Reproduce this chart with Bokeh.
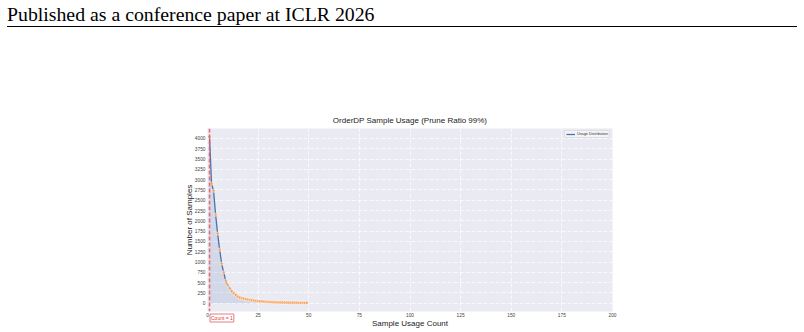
from bokeh.plotting import figure
from bokeh.layouts import column
from bokeh.models import Range1d, SingleIntervalTicker, Label, Span, Legend, LegendItem, Div
from bokeh.core.properties import value
from bokeh.embed import file_html
from bokeh.resources import INLINE

# ---- data ----
usage_count = list(range(1, 50))
num_samples = [4040, 2900, 2730, 2150, 1690, 1300, 962, 750, 540, 440,
               362, 290, 240, 200, 160, 140, 125, 112, 100, 90,
               80, 72, 65, 58, 52, 47, 43, 39, 35, 32,
               29, 27, 25, 23, 21, 20, 18, 17, 16, 15,
               14, 13, 12, 12, 11, 10, 10, 9, 9]
highlight_count = 1
header_text = "Published as a conference paper at ICLR 2026"
title_text = "OrderDP Sample Usage (Prune Ratio 99%)"
x_label = "Sample Usage Count"
y_label = "Number of Samples"
legend_label = "Usage Distribution"
highlight_text = "Count = 1"
x_lim = (0, 200)
y_lim = (-202, 4242)

SANS = "Liberation Sans"
HEADER_H = 40

# ---- header (page heading + rule) ----
hdr = Div(width=804, height=HEADER_H, margin=0,
          text=('<div style="box-sizing:content-box;width:790px;height:23px;padding-top:3px;'
                'margin-left:7px;border-bottom:1px solid #000;font-family:\'Liberation Serif\';'
                'font-size:19.8px;line-height:23px;color:#000;white-space:nowrap;">'
                + header_text + '</div>'))

# ---- main chart ----
p = figure(width=804, height=332 - HEADER_H, x_range=Range1d(*x_lim), y_range=Range1d(*y_lim),
           output_backend="svg", toolbar_location=None,
           min_border_left=207, min_border_right=192, min_border_top=88, min_border_bottom=21)
p.background_fill_color = "#EAEAF2"
p.border_fill_color = "white"
p.outline_line_color = None

p.title.text = title_text
p.title.align = "center"
p.title.text_font = SANS
p.title.text_font_size = "8px"
p.title.text_font_style = "normal"
p.title.text_color = "#222222"
p.title.standoff = 7

p.xaxis.ticker = SingleIntervalTicker(interval=25)
p.yaxis.ticker = SingleIntervalTicker(interval=250)
for ax in (p.xaxis, p.yaxis):
    ax.axis_line_color = None
    ax.major_tick_line_color = None
    ax.minor_tick_line_color = None
    ax.major_tick_out = 0
    ax.major_tick_in = 0
    ax.minor_tick_out = 0
    ax.minor_tick_in = 0
    ax.major_label_text_font = SANS
    ax.major_label_text_font_size = "4.8px"
    ax.major_label_text_color = "#444444"
    ax.axis_label_text_font = SANS
    ax.axis_label_text_font_size = "8px"
    ax.axis_label_text_font_style = "normal"
    ax.axis_label_text_color = "#222222"
p.xaxis.major_label_standoff = 1
p.xaxis.axis_label_standoff = -1
p.yaxis.major_label_standoff = 2
p.yaxis.axis_label_standoff = -2
p.xaxis.axis_label = x_label
p.yaxis.axis_label = y_label

p.grid.grid_line_color = "white"
p.grid.grid_line_width = 0.8
p.grid.grid_line_dash = "4 2"
p.grid.grid_line_alpha = 0.9

# area under curve
p.varea(x=usage_count, y1=[0] * len(usage_count), y2=num_samples,
        fill_color="#4C72B0", fill_alpha=0.15)

# highlight line at count = 1
p.add_layout(Span(location=highlight_count, dimension="height", line_color="#e05a62",
                  line_alpha=0.85, line_width=1.6, line_dash="4 2"))

line_r = p.line(x=usage_count, y=num_samples, line_color="#4C72B0", line_width=1.3)
p.scatter(x=usage_count, y=num_samples, size=3.2, fill_color="#F5A05A",
          line_color="white", line_width=0.5)

# "Count = 1" tag below the axis; kept in the (roomy) right panel so it is not clipped
lab = Label(x=209.5, y=313.5 - HEADER_H, x_units="canvas", y_units="canvas", text=highlight_text,
            text_font=SANS, text_font_size="5px", text_color="#e03a3a",
            text_baseline="top", text_align="left",
            border_line_color="#e05a62", border_line_width=0.8,
            background_fill_color="white", padding=1)
p.add_layout(lab, "right")

legend = Legend(items=[LegendItem(label=legend_label, renderers=[line_r])],
                location="top_right")
legend.label_text_font = SANS
legend.label_text_font_size = "3.8px"
legend.label_text_color = "#333333"
legend.label_height = 4
legend.glyph_height = 4
legend.glyph_width = 9
legend.label_standoff = 2
legend.padding = 1
legend.spacing = 0
legend.margin = 2
legend.border_line_color = "#cccccc"
legend.border_line_width = 0.6
legend.background_fill_color = "#f4f4f8"
legend.background_fill_alpha = 0.9
p.add_layout(legend)

layout = column(hdr, p, spacing=0)
open("out.html", "w").write(file_html(layout, INLINE))
